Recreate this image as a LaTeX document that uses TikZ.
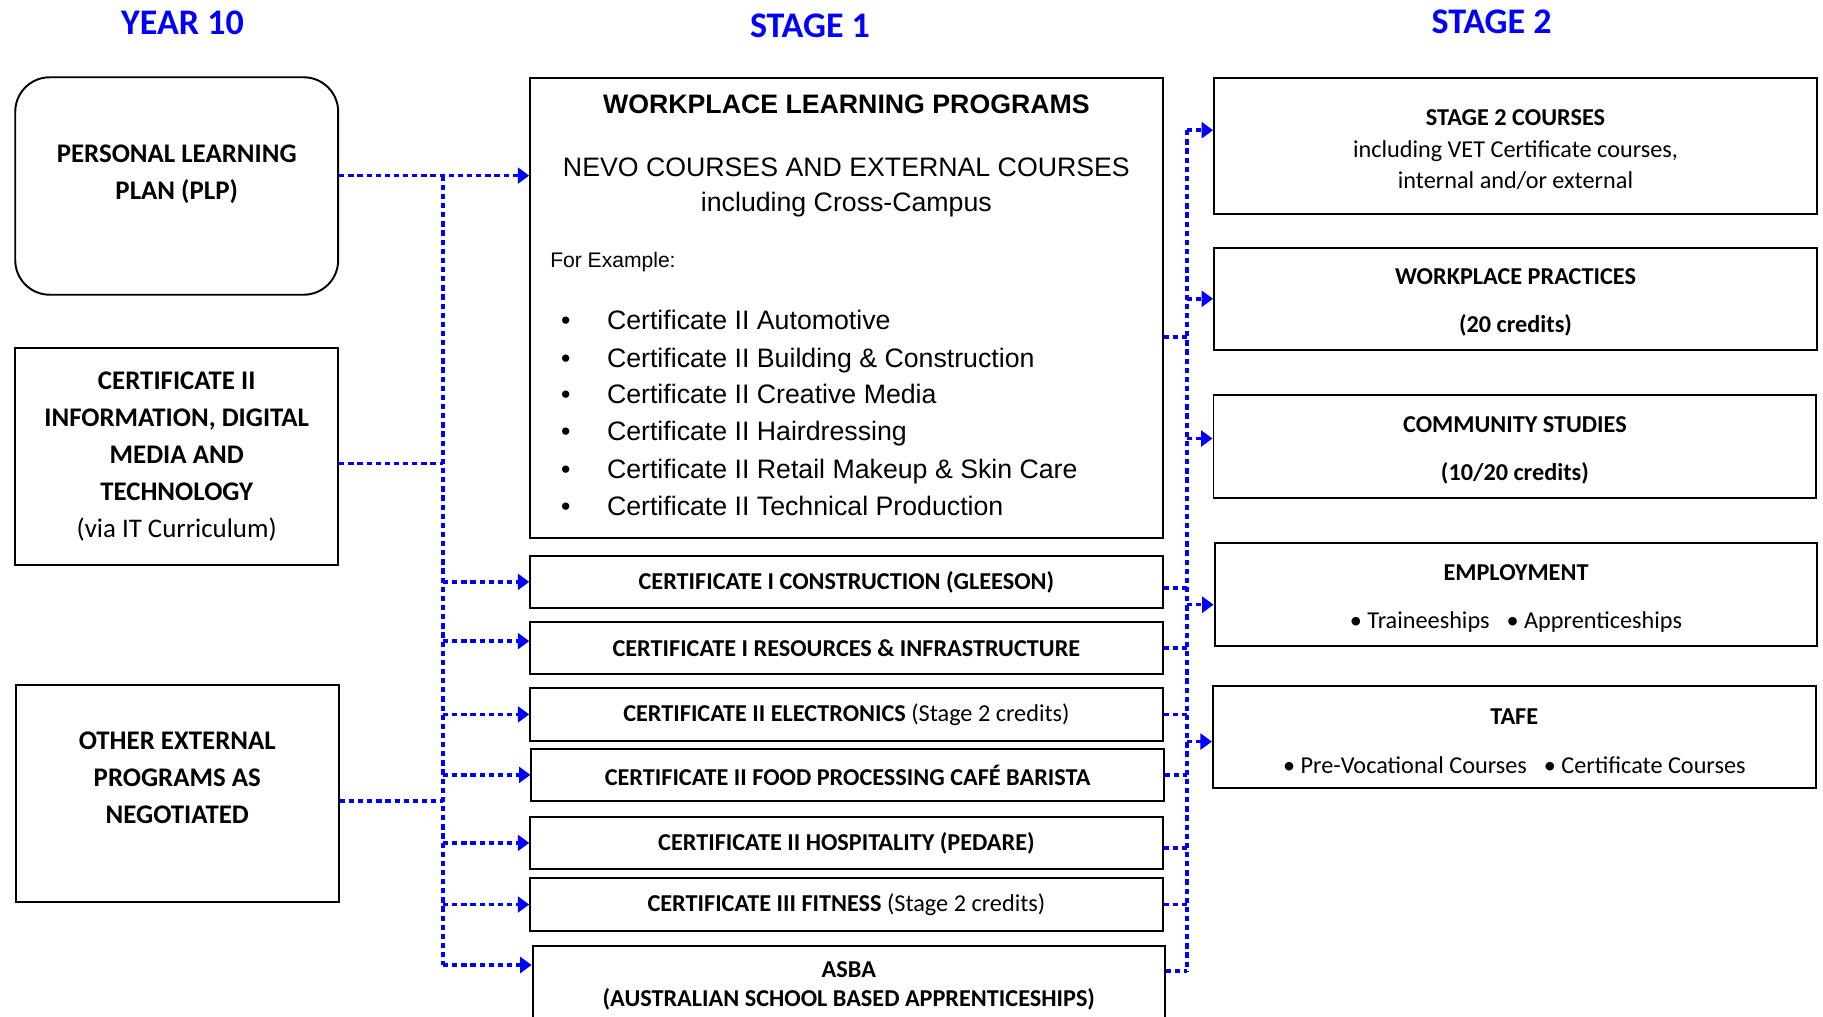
\documentclass[tikz,border=0pt]{standalone}
\usepackage{fontspec}
\setmainfont{Carlito}
\newfontfamily\arialfont{Liberation Sans}
\usetikzlibrary{arrows.meta, positioning}
\newcommand{\boxstrut}{\rule{0pt}{13.5pt}}

\begin{document}
\begin{tikzpicture}[x=0.02cm, y=-0.02cm]
    \tikzstyle{heading} = [text=blue, font=\fontsize{20.5}{24}\selectfont\bfseries]
    \tikzstyle{box} = [rectangle, draw=black, line width=1.1pt, inner sep=0pt, align=center]
    \tikzstyle{side} = [box, minimum width=6.46cm, minimum height=4.35cm, font=\fontsize{15.3}{21}\selectfont\bfseries]
    \tikzstyle{sidetext} = [align=center, inner sep=0pt, font=\fontsize{15.3}{21}\selectfont\bfseries]
    \tikzstyle{cert} = [box, minimum width=12.65cm, minimum height=1.05cm, font=\fontsize{13.8}{16.5}\selectfont\bfseries]
    \tikzstyle{outcome} = [box, minimum width=12.06cm, minimum height=2.05cm, font=\fontsize{13.8}{18}\selectfont]
    \tikzstyle{arialtext} = [inner sep=0pt, align=center, font=\arialfont\fontsize{15.2}{19.8}\selectfont]
    \tikzstyle{example} = [inner sep=0pt, anchor=west, text height=11pt, text depth=0pt, font=\arialfont\fontsize{15.2}{17}\selectfont]
    \tikzstyle{link} = [blue, line width=2pt, dash pattern=on 3pt off 2.2pt]
    \tikzstyle{arrow} = [link, -{Triangle[length=6.5pt, width=9pt]}]

    \useasboundingbox (0,0) rectangle (1823,1017);
    \clip (0,0) rectangle (1823,1017);

    % column headings
    \node (year10) [heading] at (182.5,23.3) {YEAR 10};
    \node (stage1) [heading] at (810,25.6) {STAGE 1};
    \node (stage2) [heading] at (1491.6,22) {STAGE 2};

    % year 10
    \node (plp) [side, rounded corners=0.69cm] at (176.7,186) {};
    \node (plptext) [sidetext] at (176.7,174.5) {PERSONAL LEARNING\\PLAN (PLP)};
    \node (idmt) [side] at (176.7,456.3) {CERTIFICATE II\\INFORMATION, DIGITAL\\MEDIA AND\\TECHNOLOGY\\{\mdseries (via IT Curriculum)}};
    \node (other) [side] at (177.3,793.5) {};
    \node (othertext) [sidetext] at (177.3,777.8) {OTHER EXTERNAL\\PROGRAMS AS\\NEGOTIATED};

    % stage 1
    \node (wlp) [box, minimum width=12.65cm, minimum height=9.21cm] at (846.4,308.1) {};
    \node (wlptitle) [arialtext, font=\arialfont\bfseries\fontsize{15.2}{18}\selectfont] at (846.4,104.5) {WORKPLACE LEARNING PROGRAMS};
    \node (nevo) [arialtext] at (846.4,187.2) {NEVO COURSES AND EXTERNAL COURSES\\including Cross-Campus};
    \node (forex) [example, text height=8.5pt, font=\arialfont\fontsize{12}{14}\selectfont] at (549.9,260.4) {For Example:};
    \node (auto) [example] at (560.7,319.7) {\makebox[0.92cm][l]{\textbullet}Certificate II Automotive};
    \node (build) [example] at (560.7,358.1) {\makebox[0.92cm][l]{\textbullet}Certificate II Building \& Construction};
    \node (media) [example] at (560.7,394.1) {\makebox[0.92cm][l]{\textbullet}Certificate II Creative Media};
    \node (hair) [example] at (560.7,431.3) {\makebox[0.92cm][l]{\textbullet}Certificate II Hairdressing};
    \node (retail) [example] at (560.7,468.5) {\makebox[0.92cm][l]{\textbullet}Certificate II Retail Makeup \& Skin Care};
    \node (tech) [example] at (560.7,505.7) {\makebox[0.92cm][l]{\textbullet}Certificate II Technical Production};

    \node (cons) [cert] at (846.4,581.9) {CERTIFICATE I CONSTRUCTION (GLEESON)};
    \node (res) [cert] at (846.4,648.1) {CERTIFICATE I RESOURCES \& INFRASTRUCTURE};
    \node (elec) [cert] at (846.4,714.4) {CERTIFICATE II ELECTRONICS {\mdseries (Stage 2 credits)}};
    \node (food) [cert] at (847.6,774.9) {CERTIFICATE II FOOD PROCESSING CAFÉ BARISTA};
    \node (hosp) [cert] at (846.4,842.9) {CERTIFICATE II HOSPITALITY (PEDARE)};
    \node (fit) [cert] at (846.4,904.5) {CERTIFICATE III FITNESS {\mdseries (Stage 2 credits)}};
    \node (asba) [cert, minimum height=1.56cm] at (848.8,985.4) {ASBA\\(AUSTRALIAN SCHOOL BASED APPRENTICESHIPS)};

    % stage 2
    \node (s2c) [outcome, minimum height=2.72cm] at (1515.5,145.9) {\boxstrut\textbf{STAGE 2 COURSES}\\including VET Certificate courses,\\internal and/or external};
    \node (wp) [outcome] at (1515.5,298.8) {\boxstrut\textbf{WORKPLACE PRACTICES}\\[9.5pt]\textbf{(20 credits)}};
    \node (cs) [outcome] at (1514.9,446.5) {\boxstrut\textbf{COMMUNITY STUDIES}\\[9.5pt]\textbf{(10/20 credits)}};
    \node (emp) [outcome] at (1516,594.7) {\boxstrut\textbf{EMPLOYMENT}\\[9.5pt]\textbullet\ Traineeships\hspace{0.7em}\textbullet\ Apprenticeships};
    \node (tafe) [outcome] at (1514.3,737.1) {\boxstrut\textbf{TAFE}\\[9.5pt]\textbullet\ Pre-Vocational Courses\hspace{0.7em}\textbullet\ Certificate Courses};

    % trunks
    \coordinate (ltop) at (443,175.6);
    \coordinate (lbot) at (443,965);
    \coordinate (rtop) at (1187,130.2);
    \coordinate (rbot) at (1187,970.8);
    \path ([yshift=-0.14cm]idmt.east) coordinate (idmtout);
    \path ([yshift=-0.15cm]other.east) coordinate (otherout);
    \path ([yshift=0.14cm]res.west) coordinate (resin);
    \path ([yshift=-0.58cm]wlp.east) coordinate (wlpout);
    \path ([yshift=-0.12cm]cons.east) coordinate (consout);
    \path ([yshift=-0.1cm]hosp.east) coordinate (hospout);
    \path ([yshift=0.16cm]cs.west) coordinate (csin);
    \path ([yshift=-0.2cm]emp.west) coordinate (empin);
    \path ([yshift=-0.09cm]tafe.west) coordinate (tafein);

    % year 10 -> stage 1
    \draw [link] (ltop) -- (lbot);
    \draw [arrow] (plp.east |- ltop) -- (wlp.west |- ltop);
    \draw [link] (idmtout) -- (idmtout -| ltop);
    \draw [link] (otherout) -- (otherout -| ltop);
    \draw [arrow] (cons.west -| ltop) -- (cons.west);
    \draw [arrow] (resin -| ltop) -- (resin);
    \draw [arrow] (elec.west -| ltop) -- (elec.west);
    \draw [arrow] (food.west -| ltop) -- (food.west);
    \draw [arrow] (hosp.west -| ltop) -- (hosp.west);
    \draw [arrow] (fit.west -| ltop) -- (fit.west);
    \draw [arrow] (lbot) -- (lbot -| asba.west);

    % stage 1 -> stage 2
    \draw [link] (rtop) -- (rbot);
    \draw [link] (wlpout) -- (wlpout -| rtop);
    \draw [link] (consout) -- (consout -| rtop);
    \draw [link] (res.east) -- (res.east -| rtop);
    \draw [link] (elec.east) -- (elec.east -| rtop);
    \draw [link] (food.east) -- (food.east -| rtop);
    \draw [link] (hospout) -- (hospout -| rtop);
    \draw [link] (fit.east) -- (fit.east -| rtop);
    \draw [link] (asba.east |- rbot) -- (rbot);
    \draw [arrow] (rtop) -- (rtop -| s2c.west);
    \draw [arrow] (wp.west -| rtop) -- (wp.west);
    \draw [arrow] (csin -| rtop) -- (csin);
    \draw [arrow] (empin -| rtop) -- (empin);
    \draw [arrow] (tafein -| rtop) -- (tafein);
\end{tikzpicture}
\end{document}
